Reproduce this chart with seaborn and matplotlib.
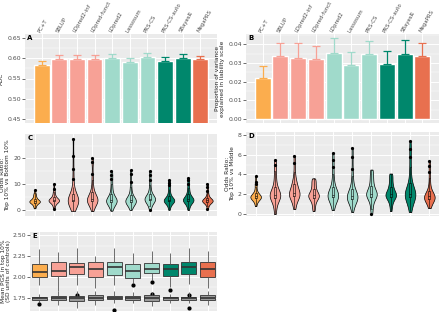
import numpy as np
import pandas as pd
import seaborn as sns
import matplotlib
matplotlib.use("Agg")
import matplotlib.pyplot as plt
from matplotlib.ticker import AutoMinorLocator

methods = ["PC+T", "SBLUP", "LDpred2-inf", "LDpred-funct", "LDpred2",
           "Lassosum", "PRS-CS", "PRS-CS-auto", "SBayesR", "MegaPRS"]
colors = ["#FBAD4E", "#F7A196", "#F7A196", "#F7A196", "#A0DACB",
          "#A0DACB", "#A0DACB", "#00876C", "#00876C", "#E8704F"]

# panel A: AUC and upper error
auc = [0.583, 0.599, 0.599, 0.598, 0.601, 0.591, 0.6025, 0.594, 0.601, 0.597]
auc_hi = [0.593, 0.609, 0.609, 0.6075, 0.611, 0.600, 0.6125, 0.6035, 0.611, 0.6067]

# panel B: liability-scale variance explained
r2l = [0.0221, 0.0338, 0.0329, 0.0322, 0.0355, 0.0291, 0.0348, 0.0294, 0.0346, 0.0338]
r2l_hi = [0.0285, 0.0407, 0.0407, 0.0389, 0.0431, 0.0357, 0.0416, 0.0362, 0.0422, 0.0407]

# panel C: odds ratio top 10% vs bottom 10%
or_bottom = {
    "PC+T": [0.6, 1.3, 1.8, 2.2, 2.5, 2.7, 2.9, 3.0, 3.1, 3.2, 3.2, 3.3, 3.4, 3.5, 3.6, 3.8, 4.0, 4.3, 4.6, 5.0, 5.5, 6.0, 6.5, 7.8],
    "SBLUP": [0.2, 1.2, 2.0, 2.5, 2.8, 3.1, 3.3, 3.4, 3.5, 3.6, 3.6, 3.7, 3.8, 3.9, 4.0, 4.2, 4.4, 4.7, 5.1, 5.6, 6.3, 7.0, 8.0, 10.0],
    "LDpred2-inf": [-0.5, 1.0, 1.8, 2.4, 2.8, 3.1, 3.3, 3.4, 3.5, 3.6, 3.7, 3.8, 3.9, 4.1, 4.4, 4.8, 5.3, 6.0, 7.0, 9.0, 12.0, 16.0, 21.0, 27.5],
    "LDpred-funct": [-0.5, 1.2, 2.0, 2.6, 3.0, 3.3, 3.5, 3.6, 3.7, 3.8, 3.9, 4.0, 4.2, 4.4, 4.7, 5.1, 5.7, 6.5, 7.5, 9.0, 11.5, 14.0, 18.5, 20.0],
    "LDpred2": [-0.3, 0.9, 1.6, 2.2, 2.6, 2.9, 3.1, 3.3, 3.4, 3.5, 3.6, 3.7, 3.9, 4.1, 4.4, 4.8, 5.3, 6.0, 7.0, 8.5, 10.0, 12.0, 13.5, 15.0],
    "Lassosum": [0.0, 1.1, 1.8, 2.3, 2.7, 2.9, 3.1, 3.2, 3.3, 3.4, 3.5, 3.6, 3.7, 3.9, 4.1, 4.4, 4.8, 5.4, 6.2, 7.5, 9.0, 11.0, 14.0, 15.5],
    "PRS-CS": [0.0, 1.3, 2.1, 2.7, 3.2, 3.5, 3.8, 3.9, 4.0, 4.1, 4.2, 4.3, 4.4, 4.6, 4.8, 5.1, 5.5, 6.0, 6.8, 8.0, 9.5, 11.5, 13.5, 15.0],
    "PRS-CS-auto": [0.0, 1.2, 2.0, 2.5, 2.9, 3.1, 3.3, 3.4, 3.5, 3.6, 3.7, 3.8, 3.9, 4.0, 4.2, 4.5, 4.9, 5.4, 6.0, 7.0, 8.0, 9.5, 10.5, 11.5],
    "SBayesR": [0.0, 1.2, 2.0, 2.6, 3.0, 3.3, 3.5, 3.6, 3.7, 3.8, 3.9, 4.0, 4.1, 4.3, 4.5, 4.8, 5.2, 5.8, 6.5, 7.5, 8.5, 10.0, 11.5, 12.5],
    "MegaPRS": [0.5, 1.5, 2.2, 2.6, 2.9, 3.1, 3.2, 3.3, 3.4, 3.5, 3.5, 3.6, 3.7, 3.8, 3.9, 4.1, 4.3, 4.6, 5.0, 5.6, 6.4, 7.5, 8.8, 10.0],
}

# panel D: odds ratio top 10% vs middle
or_middle = {
    "PC+T": [0.8, 1.1, 1.3, 1.4, 1.5, 1.55, 1.6, 1.65, 1.7, 1.7, 1.75, 1.75, 1.8, 1.8, 1.85, 1.9, 2.0, 2.1, 2.2, 2.4, 2.7, 3.0, 3.2, 3.8],
    "SBLUP": [0.0, 0.5, 0.9, 1.2, 1.4, 1.55, 1.65, 1.75, 1.8, 1.85, 1.9, 1.95, 2.0, 2.1, 2.2, 2.35, 2.5, 2.7, 3.0, 3.4, 3.9, 4.4, 5.0, 5.5],
    "LDpred2-inf": [0.5, 0.9, 1.2, 1.45, 1.6, 1.75, 1.85, 1.9, 1.95, 2.0, 2.05, 2.1, 2.2, 2.3, 2.45, 2.6, 2.8, 3.0, 3.1, 3.3, 3.7, 4.3, 5.2, 5.9],
    "LDpred-funct": [0.3, 0.6, 0.9, 1.15, 1.35, 1.5, 1.6, 1.7, 1.75, 1.8, 1.85, 1.9, 1.95, 2.0, 2.1, 2.2, 2.35, 2.5, 2.7, 2.9, 3.1, 3.3, 3.5, 3.6],
    "LDpred2": [0.4, 0.8, 1.1, 1.3, 1.5, 1.6, 1.7, 1.75, 1.8, 1.85, 1.9, 1.95, 2.0, 2.1, 2.2, 2.35, 2.5, 2.7, 3.0, 3.4, 4.0, 4.8, 5.5, 6.2],
    "Lassosum": [0.2, 0.7, 1.0, 1.25, 1.4, 1.5, 1.55, 1.6, 1.65, 1.7, 1.75, 1.8, 1.85, 1.9, 2.0, 2.15, 2.3, 2.5, 2.8, 3.2, 3.8, 4.6, 5.8, 6.7],
    "PRS-CS": [0.0, 0.5, 0.9, 1.2, 1.45, 1.6, 1.75, 1.85, 1.9, 1.95, 2.0, 2.05, 2.1, 2.2, 2.3, 2.45, 2.6, 2.8, 3.0, 3.3, 3.6, 3.9, 4.2, 4.5],
    "PRS-CS-auto": [0.3, 0.8, 1.1, 1.35, 1.5, 1.65, 1.75, 1.8, 1.85, 1.9, 1.95, 2.0, 2.05, 2.15, 2.25, 2.4, 2.55, 2.7, 2.9, 3.1, 3.4, 3.7, 3.9, 4.1],
    "SBayesR": [0.2, 0.7, 1.0, 1.3, 1.5, 1.65, 1.75, 1.85, 1.9, 1.95, 2.0, 2.05, 2.1, 2.2, 2.35, 2.5, 2.7, 3.0, 3.4, 4.0, 4.8, 5.8, 6.6, 7.4],
    "MegaPRS": [0.6, 0.9, 1.1, 1.3, 1.4, 1.5, 1.55, 1.6, 1.65, 1.7, 1.7, 1.75, 1.8, 1.85, 1.9, 2.0, 2.1, 2.3, 2.6, 3.0, 3.6, 4.3, 4.9, 5.4],
}

# panel E: mean PGS in top 10%, cases (coloured) and controls (grey)
pgs_cases = {
    "PC+T": [1.905, 1.96, 2.00, 2.03, 2.06, 2.10, 2.155, 2.25, 2.333],
    "SBLUP": [1.83, 1.95, 2.01, 2.04, 2.07, 2.12, 2.18, 2.24, 2.30],
    "LDpred2-inf": [1.79, 1.905, 2.035, 2.08, 2.12, 2.15, 2.17, 2.25, 2.34],
    "LDpred-funct": [1.87, 1.94, 1.995, 2.05, 2.10, 2.14, 2.18, 2.22, 2.25],
    "LDpred2": [1.90, 1.97, 2.025, 2.08, 2.12, 2.15, 2.18, 2.26, 2.34],
    "Lassosum": [1.925, 1.95, 1.985, 2.03, 2.07, 2.11, 2.15, 2.21, 2.28],
    "PRS-CS": [1.80, 1.97, 2.045, 2.07, 2.09, 2.13, 2.17, 2.24, 2.31],
    "PRS-CS-auto": [1.885, 1.95, 2.015, 2.06, 2.095, 2.12, 2.15, 2.22, 2.29],
    "SBayesR": [1.79, 1.915, 2.03, 2.08, 2.115, 2.15, 2.18, 2.26, 2.34],
    "MegaPRS": [1.865, 1.94, 2.00, 2.05, 2.09, 2.13, 2.18, 2.24, 2.31],
}
pgs_controls = {
    "PC+T": [1.675, 1.70, 1.73, 1.74, 1.745, 1.75, 1.76, 1.78, 1.80],
    "SBLUP": [1.665, 1.70, 1.73, 1.745, 1.75, 1.76, 1.775, 1.80, 1.83],
    "LDpred2-inf": [1.63, 1.68, 1.71, 1.73, 1.745, 1.755, 1.77, 1.80, 1.83],
    "LDpred-funct": [1.665, 1.70, 1.73, 1.745, 1.75, 1.76, 1.78, 1.80, 1.83],
    "LDpred2": [1.61, 1.69, 1.735, 1.745, 1.75, 1.76, 1.775, 1.80, 1.83],
    "Lassosum": [1.69, 1.71, 1.73, 1.745, 1.75, 1.76, 1.775, 1.82, 1.90],
    "PRS-CS": [1.65, 1.68, 1.71, 1.73, 1.745, 1.76, 1.78, 1.82, 1.94],
    "PRS-CS-auto": [1.685, 1.70, 1.73, 1.74, 1.745, 1.75, 1.765, 1.80, 1.84],
    "SBayesR": [1.63, 1.69, 1.725, 1.74, 1.745, 1.75, 1.765, 1.79, 1.82],
    "MegaPRS": [1.67, 1.70, 1.73, 1.745, 1.755, 1.765, 1.78, 1.80, 1.83],
}

pal = dict(zip(methods, colors))


def long_df(d):
    return pd.DataFrame([(m, v) for m in methods for v in d[m]], columns=["method", "value"])


sns.set_theme(style="darkgrid", rc={"axes.facecolor": "#EBEBEB", "grid.color": "white",
                                     "grid.linewidth": 0.7})
plt.rcParams["font.family"] = ["DejaVu Sans"]

W, H = 440, 314
fig = plt.figure(figsize=(W / 100, H / 100), dpi=100)


def panel(x0, y0, x1, y1):
    return fig.add_axes([x0 / W, 1 - y1 / H, (x1 - x0) / W, (y1 - y0) / H])


def style(ax, letter, ylabel, pad=2):
    ax.yaxis.set_minor_locator(AutoMinorLocator(2))
    ax.grid(which="minor", axis="y", color="white", linewidth=0.35)
    ax.grid(which="major", color="white", linewidth=0.7)
    ax.tick_params(axis="y", length=2, width=0.5, color="#333333", labelsize=4.4,
                   labelcolor="#4D4D4D", pad=1, left=True)
    ax.tick_params(axis="y", which="minor", length=0)
    for s in ax.spines.values():
        s.set_visible(False)
    ax.set_xlabel("")
    ax.set_ylabel(ylabel, fontsize=4.2, labelpad=pad, linespacing=1.0)
    ax.text(0.012, 0.985, letter, transform=ax.transAxes, ha="left", va="top",
            fontsize=5, fontweight="bold", color="black")


def top_labels(ax):
    ax.xaxis.tick_top()
    ax.set_xticks(range(len(methods)))
    ax.set_xticklabels(methods, rotation=60, ha="left", va="bottom",
                       rotation_mode="anchor", fontsize=3.9, color="#4D4D4D")
    ax.tick_params(axis="x", length=0, pad=0.5)


def no_x(ax):
    ax.set_xticklabels([])
    ax.tick_params(axis="x", length=0)


# A
axA = panel(25, 34, 217, 123)
dfA = pd.DataFrame({"method": methods, "value": auc})
sns.barplot(data=dfA, x="method", y="value", hue="method", palette=pal, width=0.9,
            legend=False, ax=axA, saturation=1)
for i, m in enumerate(methods):
    axA.errorbar(i, auc[i], yerr=[[0], [auc_hi[i] - auc[i]]], color=colors[i],
                 lw=0.9, capsize=2.6, capthick=0.9)
axA.set_ylim(0.44, 0.66)
axA.set_yticks([0.45, 0.50, 0.55, 0.60, 0.65])
axA.set_yticklabels(["0.45", "0.50", "0.55", "0.60", "0.65"])
style(axA, "A", "AUC")
top_labels(axA)

# B
axB = panel(246, 34, 439, 123)
dfB = pd.DataFrame({"method": methods, "value": r2l})
sns.barplot(data=dfB, x="method", y="value", hue="method", palette=pal, width=0.9,
            legend=False, ax=axB, saturation=1)
for i, m in enumerate(methods):
    axB.errorbar(i, r2l[i], yerr=[[0], [r2l_hi[i] - r2l[i]]], color=colors[i],
                 lw=0.9, capsize=2.6, capthick=0.9)
axB.set_ylim(-0.0022, 0.0455)
axB.set_yticks([0.0, 0.01, 0.02, 0.03, 0.04])
axB.set_yticklabels(["0.00", "0.01", "0.02", "0.03", "0.04"])
style(axB, "B", "Proportion of variance\nexplained in liability scale")
top_labels(axB)


def violins(ax, d):
    df = long_df(d)
    sns.violinplot(data=df, x="method", y="value", hue="method", palette=pal,
                   inner=None, cut=0, linewidth=0.5, linecolor="black",
                   density_norm="area", width=0.55, bw_adjust=0.7, saturation=1,
                   legend=False, ax=ax)
    sns.boxplot(data=df, x="method", y="value", width=0.1, fill=False, color="black",
                linewidth=0.4, fliersize=1.3,
                flierprops=dict(marker="o", markerfacecolor="black", markeredgecolor="black"),
                ax=ax)


# C
axC = panel(25, 134, 217, 216)
violins(axC, or_bottom)
axC.set_ylim(-2.4, 29.5)
axC.set_yticks([0, 10, 20])
style(axC, "C", "Odds Ratio:\nTop 10% vs Bottom 10%")
no_x(axC)

# D
axD = panel(246, 132, 439, 216)
violins(axD, or_middle)
axD.set_ylim(-0.2, 8.3)
axD.set_yticks([0, 2, 4, 6, 8])
style(axD, "D", "Odds Ratio:\nTop 10% vs Middle")
no_x(axD)

# E
axE = panel(30, 232, 217, 311)
box_kw = dict(width=0.8, linewidth=0.6, linecolor="#333333", fliersize=2,
              medianprops=dict(linewidth=1.2, color="#333333"),
              whiskerprops=dict(color="#555555"), capprops=dict(linewidth=0),
              flierprops=dict(marker="o", markerfacecolor="black", markeredgecolor="black"))
sns.boxplot(data=long_df(pgs_cases), x="method", y="value", hue="method", palette=pal,
            saturation=1, legend=False, ax=axE, **box_kw)
sns.boxplot(data=long_df(pgs_controls), x="method", y="value", color="#9A9A9A",
            saturation=1, ax=axE, **box_kw)
axE.set_ylim(1.595, 2.536)
axE.set_yticks([1.75, 2.00, 2.25, 2.50])
axE.set_yticklabels(["1.75", "2.00", "2.25", "2.50"])
style(axE, "E", "Mean PGS in top 10%\n(SD units of controls)", pad=1)
no_x(axE)

fig.savefig("out.png", dpi=100)
